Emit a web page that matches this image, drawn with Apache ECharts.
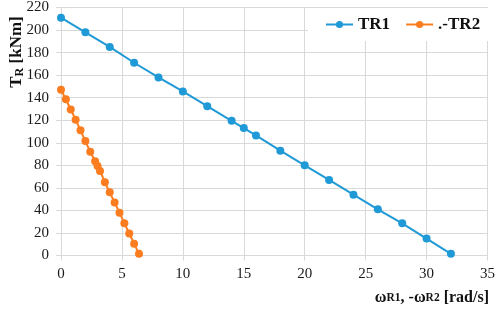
<!DOCTYPE html>
<html>
<head>
<meta charset="utf-8">
<script src="https://cdn.jsdelivr.net/npm/echarts@6/dist/echarts.min.js"></script>
<style>html,body{margin:0;padding:0;background:#fff}#c{width:498px;height:309px}</style>
</head>
<body>
<div id="c"></div>
<script>
const tr1X = [0, 2, 4, 6, 8, 10, 12, 14, 15, 16, 18, 20, 22, 24, 26, 28, 30, 32];
const tr1Y = [211, 198, 185, 171, 158, 145.5, 132.5, 119.5, 113, 106.5, 93, 80, 67, 54, 41, 28.5, 15, 1.5];
const tr2X = [0, 0.4, 0.8, 1.2, 1.6, 2.0, 2.4, 2.8, 3.0, 3.2, 3.6, 4.0, 4.4, 4.8, 5.2, 5.6, 6.0, 6.4];
const tr2Y = [147, 138.5, 129.5, 120.5, 111, 101.5, 92, 83.5, 79.5, 75, 65, 56, 47, 38, 28.5, 19.5, 10.5, 1.5];
const seriesNames = ['TR1', '.-TR2'];
const xTicks = {min: 0, max: 35, step: 5};
const yTicks = {min: 0, max: 220, step: 20};

const chart = echarts.init(document.getElementById('c'), null, {renderer: 'canvas'});
const serif = 'Liberation Serif';
const grey = '#d9d9d9';
const blue = '#1f9ad6';
const orange = '#fb7d20';

function pairs(xs, ys) { return xs.map((x, i) => [x, ys[i]]); }

chart.setOption({
  animation: false,
  textStyle: {fontFamily: serif},
  grid: {left: 61, right: 9, top: 7.5, bottom: 53.5, containLabel: false},
  legend: {
    left: 308, top: 8,
    padding: [8, 13, 8, 17],
    backgroundColor: '#fff',
    itemWidth: 27, itemHeight: 9, itemGap: 15,
    textStyle: {fontFamily: serif, fontWeight: 'bold', fontSize: 17, color: '#111'},
    data: seriesNames
  },
  xAxis: {
    type: 'value', min: xTicks.min, max: xTicks.max, interval: xTicks.step,
    axisLine: {show: true, lineStyle: {color: grey}},
    axisTick: {show: true, length: 5, lineStyle: {color: grey}},
    splitLine: {show: true, lineStyle: {color: grey}},
    axisLabel: {fontFamily: serif, fontSize: 15, color: '#1a1a1a', margin: 11}
  },
  yAxis: {
    type: 'value', min: yTicks.min, max: yTicks.max, interval: yTicks.step,
    axisLine: {show: true, lineStyle: {color: grey}},
    axisTick: {show: true, length: 5, lineStyle: {color: grey}},
    splitLine: {show: true, lineStyle: {color: grey}},
    axisLabel: {fontFamily: serif, fontSize: 15, color: '#1a1a1a', margin: 12}
  },
  graphic: [
    {
      type: 'text', x: 17, y: 52, rotation: Math.PI / 2,
      style: {
        text: '{a|T}{b|R}{a| [kNm]}',
        align: 'center', verticalAlign: 'middle',
        rich: {
          a: {fontFamily: serif, fontWeight: 'bold', fontSize: 17, fill: '#111'},
          b: {fontFamily: serif, fontWeight: 'bold', fontSize: 12, fill: '#111', verticalAlign: 'bottom'}
        }
      }
    },
    {
      type: 'text', x: 489, y: 298,
      style: {
        text: '{a|ω}{b|R1}{a|, -ω}{b|R2}{a| [rad/s]}',
        align: 'right', verticalAlign: 'middle',
        rich: {
          a: {fontFamily: serif, fontWeight: 'bold', fontSize: 16, fill: '#111'},
          b: {fontFamily: serif, fontWeight: 'bold', fontSize: 11.5, fill: '#111'}
        }
      }
    }
  ],
  series: [
    {
      name: seriesNames[0], type: 'line', data: pairs(tr1X, tr1Y),
      symbol: 'circle', symbolSize: 8,
      lineStyle: {color: blue, width: 2}, itemStyle: {color: blue}
    },
    {
      name: seriesNames[1], type: 'line', data: pairs(tr2X, tr2Y),
      symbol: 'circle', symbolSize: 8,
      lineStyle: {color: orange, width: 2}, itemStyle: {color: orange}
    }
  ]
});
</script>
</body>
</html>
